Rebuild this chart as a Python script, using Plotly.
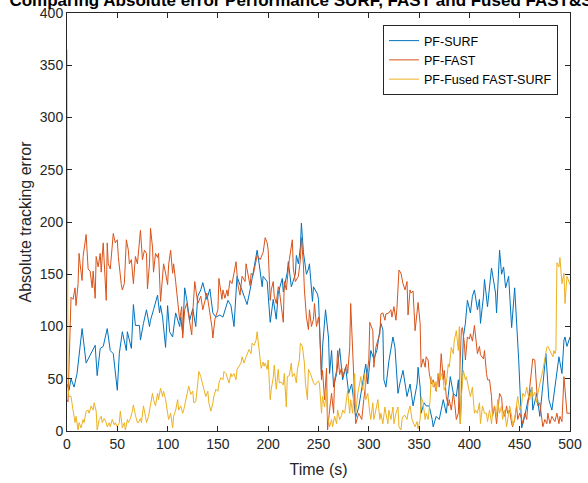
import plotly.graph_objects as go

# ---------------- data ----------------
t_surf = [0,2,4,7,10,13,15,19,23,28,
          30,33,36,40,43,46,50,52,55,59,
          60,64,66,68,72,73,76,79,82,83,
          86,90,92,93,95,98,100,102,105,108,
          112,113,115,117,119,122,125,128,130,133,
          135,139,142,145,148,152,155,158,160,163,
          166,169,172,175,179,182,186,189,191,194,
          195,199,202,205,208,210,214,215,219,220,
          223,227,228,230,232,233,235,238,240,241,
          244,245,249,250,253,254,257,260,261,263,
          265,268,271,274,277,280,283,285,287,290,
          294,297,299,302,305,308,312,314,315,317,
          320,324,326,329,331,334,338,341,344,348,
          349,351,352,355,357,360,363,364,367,370,
          374,377,381,384,387,389,391,393,394,396,
          398,401,403,405,408,410,411,414,415,418,
          420,422,426,427,430,432,434,436,439,442,
          445,449,452,455,459,462,463,467,470,474,
          476,479,482,486,489,492,494,495,497,500]
surf = [45,39,50,42,55,80,98,65,72,82,
        53,79,81,98,77,74,39,74,95,77,
        95,79,121,101,101,87,103,116,100,106,
        116,130,113,120,109,80,120,95,90,113,
        100,109,93,137,126,106,117,100,129,135,
        142,126,136,113,109,111,109,120,125,120,
        100,148,140,133,121,135,159,173,160,138,
        148,143,104,126,107,132,146,133,152,162,
        138,150,168,160,176,199,171,150,155,160,
        124,138,131,126,52,80,116,89,55,77,
        42,55,79,49,61,36,45,30,13,23,
        45,64,45,77,69,77,103,97,49,42,
        67,90,80,36,46,58,33,45,24,45,
        61,42,17,27,24,24,11,4,14,11,
        30,17,52,36,33,49,7,68,90,103,
        125,113,129,135,116,126,103,129,145,119,
        141,156,132,113,173,150,157,137,148,99,
        137,68,3,14,33,42,20,36,14,55,
        74,30,20,49,71,55,87,90,81,90]

t_fast = [0,1,4,6,8,9,11,12,13,15,
          16,19,21,23,25,26,28,29,31,33,
          34,36,39,40,41,43,46,48,50,51,
          54,55,57,59,61,62,64,66,68,70,
          73,75,77,79,80,82,83,85,86,88,
          90,91,93,95,96,98,100,101,103,105,
          106,108,110,112,114,115,117,119,120,122,
          124,125,127,129,130,133,135,139,140,142,
          144,145,147,150,151,154,155,157,159,160,
          162,164,166,168,170,172,174,177,178,180,
          182,183,185,189,191,192,195,197,199,200,
          202,203,205,206,208,210,211,213,215,216,
          218,220,221,224,225,227,230,232,233,235,
          236,238,240,241,243,245,246,248,250,251,
          253,254,256,258,259,261,263,265,266,268,
          269,271,273,274,278,279,281,282,284,285,
          287,290,293,295,298,300,301,304,305,307,
          309,311,312,314,316,317,320,322,323,325,
          327,328,330,332,334,336,338,339,341,342,
          344,346,349,351,352,354,356,357,359,360,
          362,364,367,369,370,372,374,375,377,379,
          380,382,384,385,387,389,392,393,395,396,
          398,400,401,403,405,407,408,410,411,414,
          415,417,418,420,422,423,425,427,428,430,
          432,433,435,437,438,440,442,443,445,447,
          448,450,452,453,455,457,458,460,462,463,
          465,467,468,470,472,473,475,477,478,480,
          482,485,487,489,490,492,494,495,497,500]
fast = [30,28,128,126,137,120,141,170,160,144,
        167,188,155,153,137,153,127,167,157,170,
        152,180,125,180,160,155,189,180,183,167,
        140,135,141,183,173,160,164,141,167,160,
        192,164,173,170,136,160,194,176,152,170,
        166,170,124,149,160,151,140,159,173,151,
        160,143,126,106,119,89,116,122,116,103,
        92,113,143,129,122,129,116,132,124,113,
        100,89,107,116,146,126,135,127,135,129,
        144,141,151,162,139,130,148,143,160,151,
        139,151,149,168,165,164,171,185,180,173,
        125,135,143,129,122,138,135,119,104,143,
        135,155,164,183,155,143,148,164,185,159,
        135,109,97,116,100,107,122,100,109,100,
        49,58,30,60,1,20,36,17,49,58,
        77,54,61,52,64,55,80,122,80,45,
        7,17,11,30,55,68,104,96,61,80,
        87,93,112,113,106,112,113,116,109,119,
        106,118,154,151,141,135,143,111,135,132,
        134,96,123,103,61,69,61,71,68,56,
        45,49,38,55,42,74,49,58,33,24,
        30,20,36,30,11,17,97,99,84,68,
        90,88,93,86,101,84,74,81,73,69,
        77,55,49,49,33,14,24,7,17,36,
        32,20,14,24,17,20,7,4,11,24,
        11,17,11,7,17,11,24,42,61,69,
        68,42,24,27,11,4,11,7,17,7,
        14,9,17,7,14,9,52,39,17,17]

t_fused = [0,1,2,4,6,8,9,11,12,14,
           16,17,19,21,22,24,26,27,29,30,
           32,34,35,37,39,40,42,43,45,47,
           48,50,52,53,55,57,58,60,61,63,
           65,66,68,70,71,73,74,76,78,79,
           81,82,85,86,88,90,91,93,95,96,
           98,100,101,103,105,106,108,110,111,113,
           115,116,118,120,121,123,125,126,128,130,
           131,133,135,136,138,140,141,143,145,146,
           148,150,151,153,155,156,158,160,161,163,
           164,166,168,169,171,173,174,176,178,179,
           181,183,184,186,188,189,190,191,193,195,
           196,197,199,200,202,203,205,206,208,210,
           211,213,215,216,218,219,221,223,224,226,
           228,229,231,232,234,236,237,239,240,242,
           244,245,247,248,250,251,253,254,256,258,
           259,261,263,264,266,268,269,271,273,274,
           276,278,279,281,282,284,286,287,289,291,
           292,294,296,297,299,301,302,304,305,307,
           309,311,312,314,316,317,319,320,322,324,
           325,327,329,330,332,333,334,336,338,339,
           341,343,344,346,348,349,351,352,354,356,
           357,359,361,362,364,366,367,369,371,372,
           374,375,377,379,380,382,384,385,387,389,
           390,391,392,394,396,397,399,401,403,405,
           406,408,410,411,413,415,417,418,420,422,
           423,425,427,428,430,432,433,435,437,438,
           440,442,443,445,447,448,450,452,453,455,
           457,458,460,462,463,465,467,468,470,472,
           473,475,477,478,480,482,483,484,485,486,
           487,489,490,492,494,495,497,500]
fused = [365,40,33,33,20,8,14,1,8,3,
         11,8,19,20,17,24,20,27,19,1,
         11,14,8,12,8,4,8,4,11,6,
         8,4,8,19,3,8,1,11,8,12,
         19,25,15,8,8,12,8,24,14,8,
         14,20,36,30,24,36,30,41,33,38,
         30,17,11,17,3,14,20,30,20,24,
         17,20,30,38,43,35,38,27,28,46,
         57,52,43,40,33,38,27,19,27,33,
         40,38,46,51,49,57,55,49,46,55,
         52,55,49,59,62,65,71,65,71,74,
         78,74,84,82,87,95,87,77,60,66,
         62,65,59,68,30,40,51,63,40,59,
         46,47,44,55,23,52,53,65,52,55,
         46,59,68,84,81,65,46,30,59,55,
         49,46,44,46,48,45,17,33,23,39,
         14,4,11,4,14,7,20,11,15,20,
         17,33,39,17,30,17,55,17,36,46,
         52,39,55,30,36,17,11,27,11,20,
         30,11,17,7,23,17,7,20,11,23,
         7,17,23,4,1,11,14,15,11,17,
         24,11,9,4,9,2,11,33,27,11,
         17,11,30,52,42,47,39,55,49,55,
         49,39,45,64,61,80,74,87,96,77,
         100,7,33,58,49,52,42,33,42,17,
         20,17,27,7,24,17,17,9,20,7,
         17,24,14,30,17,24,11,20,4,11,
         24,14,5,11,24,33,20,26,36,33,
         42,36,30,42,33,37,27,36,45,53,
         58,69,80,81,77,72,71,77,74,77,
         161,157,166,141,151,122,148,140]

series_names = ["PF-SURF", "PF-FAST", "PF-Fused FAST-SURF"]
x_ticks = [0, 50, 100, 150, 200, 250, 300, 350, 400, 450, 500]
y_ticks = [0, 50, 100, 150, 200, 250, 300, 350, 400]
title_text = "Comparing Absolute error Performance SURF, FAST and Fused FAST&SURF"

# ---------------- figure ----------------
colors = ["#0072BD", "#D95319", "#EDB120"]
FONT = "Liberation Sans, Arial, sans-serif"
AX = "#262626"

fig = go.Figure()
for tx, vy, name, col in zip([t_surf, t_fast, t_fused], [surf, fast, fused],
                             series_names, colors):
    fig.add_trace(go.Scatter(x=tx, y=vy, mode="lines", name=name,
                             line=dict(color=col, width=1)))

axis_common = dict(showgrid=False, zeroline=False, showline=True, linecolor=AX,
                   linewidth=1, mirror="ticks", ticks="inside", ticklen=5,
                   tickcolor=AX, tickwidth=1, automargin=False,
                   tickfont=dict(family=FONT, size=14, color=AX))

fig.update_layout(
    width=588, height=483,
    margin=dict(l=67, r=18, t=13, b=52),
    paper_bgcolor="white", plot_bgcolor="white",
    font=dict(family=FONT, color=AX),
    title=dict(text="<b>" + title_text + "</b>", x=0.5 * (67 + 570) / 588,
               xanchor="center", y=1.0, yanchor="middle", automargin=False,
               font=dict(family=FONT, size=17, color="black")),
    xaxis=dict(range=[0, 500], tickvals=x_ticks,
               title=dict(text="Time (s)", standoff=13,
                          font=dict(family=FONT, size=16, color=AX)),
               **axis_common),
    yaxis=dict(range=[0, 400], tickvals=y_ticks,
               title=dict(text="Absolute tracking error", standoff=4,
                          font=dict(family=FONT, size=16, color=AX)),
               **axis_common),
    legend=dict(x=(383 - 67) / 503, y=(431 - 25) / 418, xanchor="left",
                yanchor="top", bgcolor="white", bordercolor=AX, borderwidth=1,
                font=dict(family=FONT, size=12.5, color="black"),
                itemwidth=30, tracegroupgap=0),
    showlegend=True,
)

fig.write_html("out.html")
